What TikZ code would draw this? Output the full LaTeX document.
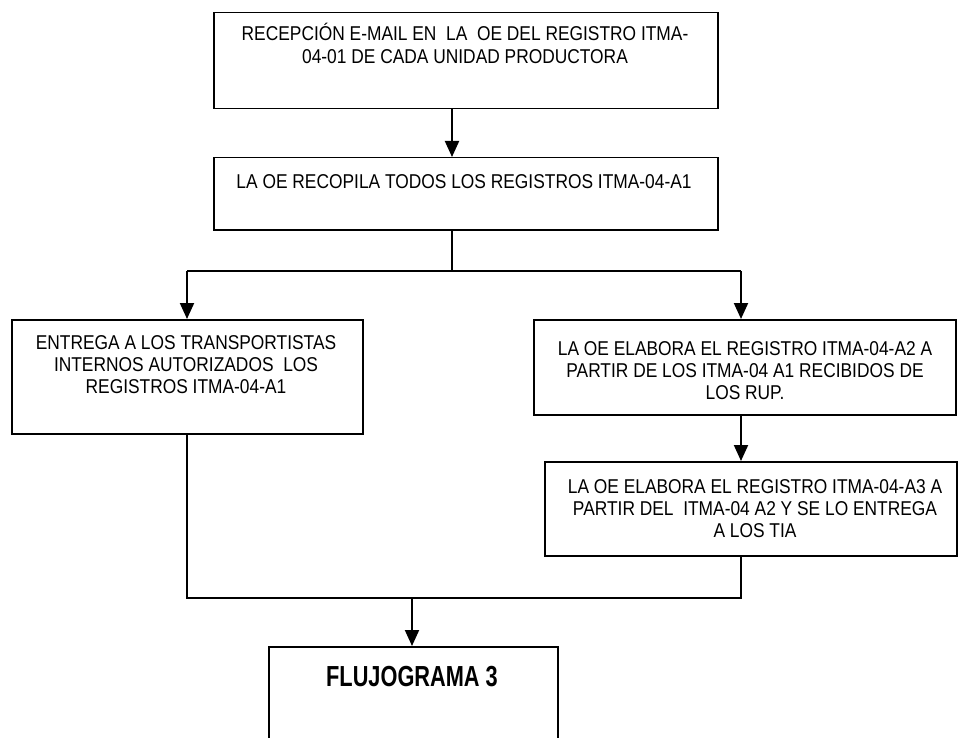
\documentclass[tikz,border=0pt]{standalone}
\usepackage{fontspec}
\setmainfont[FakeStretch=0.868]{Liberation Sans}
\newfontfamily\flufont[FakeStretch=0.75]{Liberation Sans}
\usetikzlibrary{arrows.meta}
\newcommand{\boxtext}[2]{\parbox[t]{#1}{\centering #2}}
\begin{document}
\begin{tikzpicture}[x=1pt,y=-1pt,
  box/.style={draw,line width=1.5pt,inner sep=0pt,anchor=north west},
  lbl/.style={inner sep=0pt,anchor=base,font=\fontsize{20}{22.3}\selectfont},
  conn/.style={line width=2pt},
  arr/.style={conn,-{Triangle[width=14pt,length=16pt]}}]
\useasboundingbox[fill=white] (0,0) rectangle (958,738);

% boxes
\node[box,minimum width=504pt,minimum height=96pt] (b1) at (213,12) {};
\node[box,minimum width=504pt,minimum height=72pt] (b2) at (213,157) {};
\node[box,minimum width=351pt,minimum height=114pt] (b3) at (11,319) {};
\node[box,minimum width=422pt,minimum height=95pt] (b4) at (533,319) {};
\node[box,minimum width=412pt,minimum height=94pt] (b5) at (544,461) {};
\node[box,minimum width=289pt,minimum height=120pt] (b6) at (268,646) {};

% texts
\node[lbl] (t1) at (465,41) {\boxtext{490pt}{RECEPCIÓN E-MAIL EN\ \ LA\ \ OE DEL REGISTRO ITMA-\\04-01 DE CADA UNIDAD PRODUCTORA}};
\node[lbl] (t2) at (464,189) {\boxtext{490pt}{LA OE RECOPILA TODOS LOS REGISTROS ITMA-04-A1}};
\node[lbl] (t3) at (186,349) {\boxtext{340pt}{ENTREGA A LOS TRANSPORTISTAS\\INTERNOS AUTORIZADOS\ \ LOS\\REGISTROS ITMA-04-A1}};
\node[lbl] (t4) at (745,355) {\boxtext{410pt}{LA OE ELABORA EL REGISTRO ITMA-04-A2 A\\PARTIR DE LOS ITMA-04 A1 RECIBIDOS DE\\LOS RUP.}};
\node[lbl] (t5) at (755,493) {\boxtext{400pt}{LA OE ELABORA EL REGISTRO ITMA-04-A3 A\\PARTIR DEL\ \ ITMA-04 A2 Y SE LO ENTREGA\\A LOS TIA}};
\node[inner sep=0pt,anchor=base,font=\flufont\bfseries\fontsize{29}{32}\selectfont] (t6) at (412,686) {FLUJOGRAMA 3};

% connector helper coordinates
\coordinate (cx) at (452,0);
\coordinate (lx) at (187,0);
\coordinate (rx) at (741,0);
\coordinate (bx) at (412,0);
\coordinate (splitL) at (187,271);
\coordinate (splitR) at (741,271);
\coordinate (splitC) at (452,271);
\coordinate (joinL) at (187,598);
\coordinate (joinR) at (741,598);
\coordinate (joinC) at (412,598);

% connectors
\draw[arr] (b1.south -| cx) -- (b2.north -| cx);
\draw[conn] (b2.south -| cx) -- (splitC);
\draw[conn] (splitL) -- (splitR);
\draw[arr] (splitL) -- (b3.north -| lx);
\draw[arr] (splitR) -- (b4.north -| rx);
\draw[arr] (b4.south -| rx) -- (b5.north -| rx);
\draw[conn] (b3.south -| lx) -- (joinL) -- (joinR) -- (b5.south -| rx);
\draw[arr] (joinC) -- (b6.north -| bx);
\end{tikzpicture}
\end{document}
